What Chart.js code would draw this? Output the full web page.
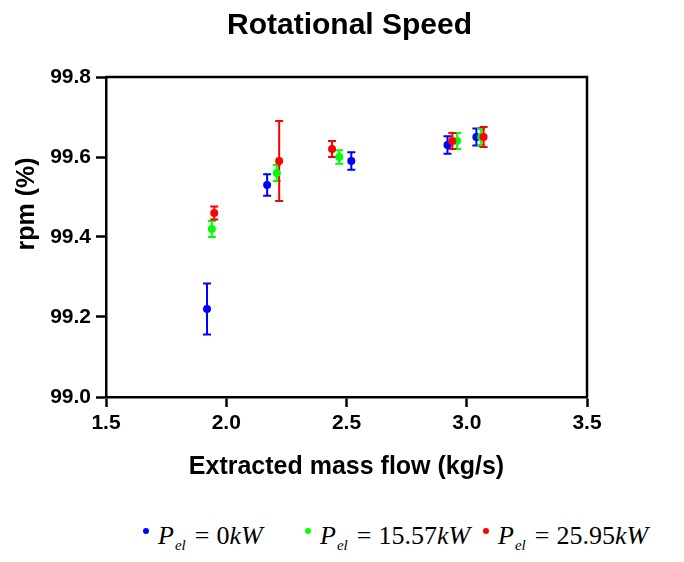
<!DOCTYPE html>
<html>
<head>
<meta charset="utf-8">
<script src="https://cdn.jsdelivr.net/npm/chart.js@4/dist/chart.umd.min.js"></script>
<style>
  html, body { margin: 0; padding: 0; background: #fff; }
  #wrap { position: relative; width: 684px; height: 500px; }
  #legend { position: absolute; left: 0; top: 521px; width: 684px; height: 41px;
            font-family: 'Liberation Serif', 'DejaVu Serif', serif; font-size: 26px; color: #000; }
  #legend .item { position: absolute; top: 0; white-space: nowrap; }
  #legend .dot { display: inline-block; width: 6px; height: 6px; border-radius: 50%;
                 vertical-align: middle; margin-right: 9px; position: relative; top: -7px; }
  #legend sub { font-size: 15px; margin-left: 1px; }
  #legend .eq { margin: 0 7px 0 9px; }
</style>
</head>
<body>
<div id="wrap"><canvas id="myChart"></canvas></div>
<div id="legend">
  <span class="item" style="left:143px"><span class="dot" style="background:#0000ff"></span><i>P</i><sub><i>el</i></sub><span class="eq">=</span>0<i>kW</i></span>
  <span class="item" style="left:305px"><span class="dot" style="background:#00ff00"></span><i>P</i><sub><i>el</i></sub><span class="eq">=</span>15.57<i>kW</i></span>
  <span class="item" style="left:483px"><span class="dot" style="background:#ff0000"></span><i>P</i><sub><i>el</i></sub><span class="eq">=</span>25.95<i>kW</i></span>
</div>
<script>
// extracted mass flow (kg/s), rpm (%) and error (+/-) per load case
const flow0 = [1.92, 2.17, 2.52, 2.92, 3.04];
const rpm0 = [99.22, 99.53, 99.59, 99.63, 99.65];
const err0 = [0.064, 0.027, 0.022, 0.022, 0.021];

const flow15 = [1.94, 2.21, 2.47, 2.96, 3.06];
const rpm15 = [99.42, 99.56, 99.60, 99.64, 99.65];
const err15 = [0.02, 0.02, 0.017, 0.02, 0.02];

const flow25 = [1.95, 2.22, 2.44, 2.94, 3.07];
const rpm25 = [99.46, 99.59, 99.62, 99.64, 99.65];
const err25 = [0.016, 0.10, 0.02, 0.02, 0.025];

const xTicks = [1.5, 2.0, 2.5, 3.0, 3.5];
const yTicks = [99.0, 99.2, 99.4, 99.6, 99.8];

const toPoints = (xs, ys, es) => xs.map((x, i) => ({x: x, y: ys[i], err: es[i]}));

const font = 'Liberation Sans';

const errorBars = {
    id: 'errorBars',
    beforeDatasetsDraw(chart) {
        const ctx = chart.ctx;
        const xs = chart.scales.x, ys = chart.scales.y;
        chart.data.datasets.forEach(ds => {
            ctx.save();
            ctx.strokeStyle = ds.backgroundColor;
            ctx.lineWidth = 2;
            ds.data.forEach(p => {
                const px = xs.getPixelForValue(p.x);
                const top = ys.getPixelForValue(p.y + p.err);
                const bot = ys.getPixelForValue(p.y - p.err);
                ctx.beginPath();
                ctx.moveTo(px, top); ctx.lineTo(px, bot);
                ctx.moveTo(px - 4, top); ctx.lineTo(px + 4, top);
                ctx.moveTo(px - 4, bot); ctx.lineTo(px + 4, bot);
                ctx.stroke();
            });
            ctx.restore();
        });
    },
    afterDraw(chart) {
        const ctx = chart.ctx;
        const a = chart.chartArea;
        ctx.save();
        // box top and right
        ctx.strokeStyle = '#000';
        ctx.lineWidth = 2.5;
        ctx.beginPath();
        ctx.moveTo(a.left, a.top); ctx.lineTo(a.right, a.top); ctx.lineTo(a.right, a.bottom);
        ctx.stroke();
        ctx.fillStyle = '#000';
        ctx.textAlign = 'center';
        ctx.textBaseline = 'middle';
        // chart title, centred over the plot
        ctx.font = 'bold 30px "Liberation Sans", Arial, sans-serif';
        ctx.fillText('Rotational Speed', (a.left + a.right) / 2 + 3, 26);
        // y axis title
        ctx.translate(27, 204);
        ctx.rotate(-Math.PI / 2);
        ctx.font = 'bold 25px "Liberation Sans", Arial, sans-serif';
        ctx.fillText('rpm (%)', 0, 0);
        ctx.restore();
    }
};

new Chart(document.getElementById('myChart'), {
    type: 'scatter',
    data: {
        datasets: [
            {label: 'Pel = 0kW', data: toPoints(flow0, rpm0, err0), backgroundColor: '#0000ff', order: 3},
            {label: 'Pel = 15.57kW', data: toPoints(flow15, rpm15, err15), backgroundColor: '#00ff00', order: 2},
            {label: 'Pel = 25.95kW', data: toPoints(flow25, rpm25, err25), backgroundColor: '#ff0000', order: 1}
        ]
    },
    options: {
        responsive: true,
        maintainAspectRatio: false,
        animation: false,
        layout: {padding: {left: 14, right: 97, top: 77, bottom: 0}},
        elements: {point: {radius: 4, borderWidth: 0, hoverRadius: 4}},
        plugins: {
            legend: {display: false},
            tooltip: {enabled: false},
            title: {display: false}
        },
        scales: {
            x: {
                type: 'linear',
                min: 1.5, max: 3.5,
                afterBuildTicks: s => { s.ticks = xTicks.map(v => ({value: v})); },
                afterFit: s => { s.height = 103; },
                ticks: {color: '#000', font: {family: font, size: 21, weight: 'bold'}, padding: 4,
                        callback: v => v.toFixed(1)},
                grid: {drawOnChartArea: false, tickLength: 10, tickColor: '#000', tickWidth: 2.5},
                border: {color: '#000', width: 2.5},
                title: {display: true, text: 'Extracted mass flow (kg/s)', color: '#000',
                        font: {family: font, size: 25, weight: 'bold'}, padding: {top: 0, bottom: 18}}
            },
            y: {
                min: 99.0, max: 99.8,
                afterBuildTicks: s => { s.ticks = yTicks.map(v => ({value: v})); },
                afterFit: s => { s.width = 92; },
                ticks: {color: '#000', font: {family: font, size: 21, weight: 'bold'}, padding: 5,
                        callback: v => v.toFixed(1)},
                grid: {drawOnChartArea: false, tickLength: 10, tickColor: '#000', tickWidth: 2.5},
                border: {color: '#000', width: 2.5}
            }
        }
    },
    plugins: [errorBars]
});
</script>
</body>
</html>
